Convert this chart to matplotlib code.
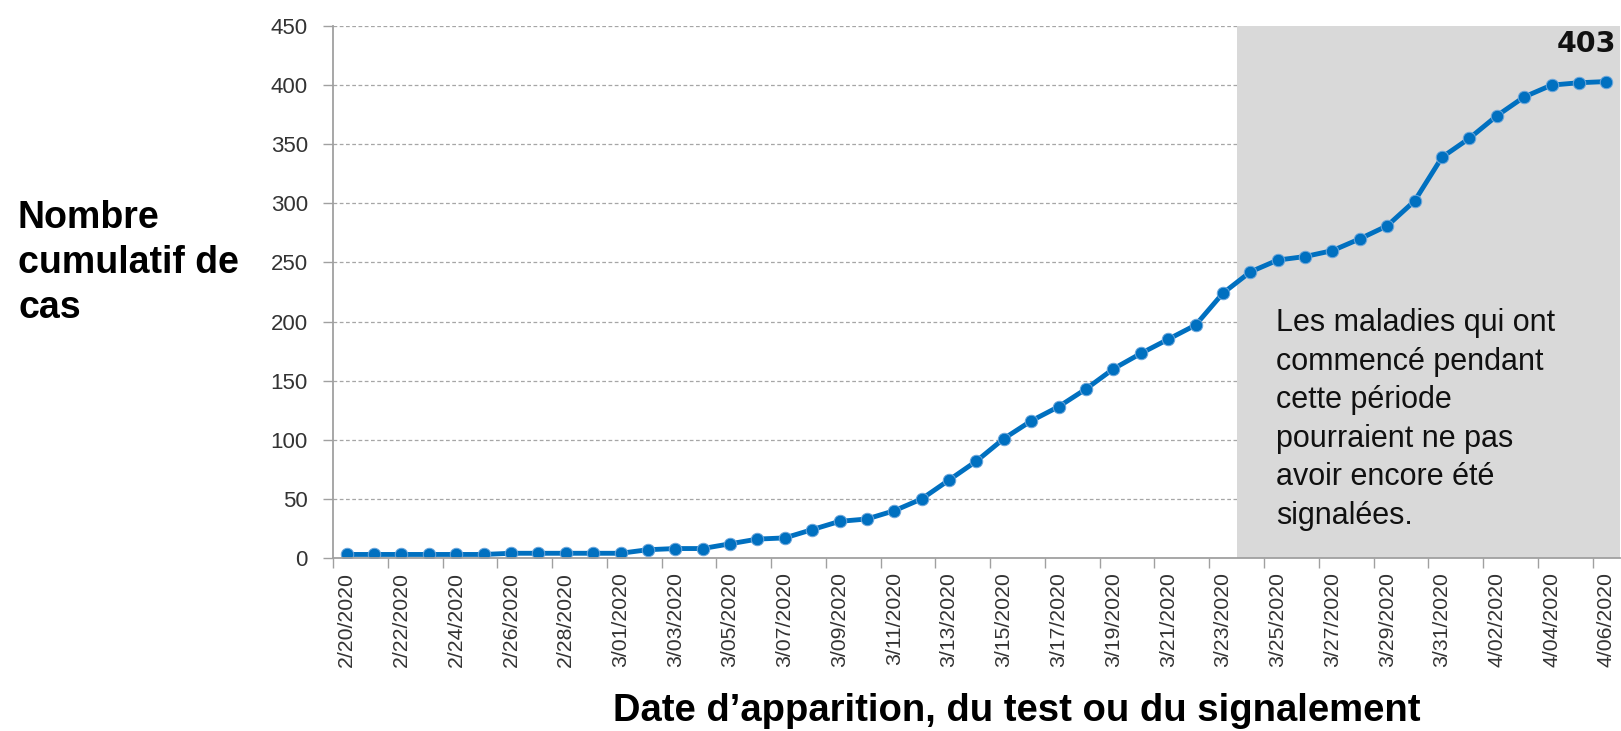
import matplotlib
matplotlib.use("Agg")
import matplotlib.pyplot as plt
import numpy as np

# ---- data ----
dates = ["2/20/2020", "2/21/2020", "2/22/2020", "2/23/2020", "2/24/2020", "2/25/2020",
         "2/26/2020", "2/27/2020", "2/28/2020", "2/29/2020", "3/01/2020", "3/02/2020",
         "3/03/2020", "3/04/2020", "3/05/2020", "3/06/2020", "3/07/2020", "3/08/2020",
         "3/09/2020", "3/10/2020", "3/11/2020", "3/12/2020", "3/13/2020", "3/14/2020",
         "3/15/2020", "3/16/2020", "3/17/2020", "3/18/2020", "3/19/2020", "3/20/2020",
         "3/21/2020", "3/22/2020", "3/23/2020", "3/24/2020", "3/25/2020", "3/26/2020",
         "3/27/2020", "3/28/2020", "3/29/2020", "3/30/2020", "3/31/2020", "4/01/2020",
         "4/02/2020", "4/03/2020", "4/04/2020", "4/05/2020", "4/06/2020"]
cumulative_cases = [3, 3, 3, 3, 3, 3,
                    4, 4, 4, 4, 4, 7,
                    8, 8, 12, 16, 17, 24,
                    31, 33, 40, 50, 66, 82,
                    101, 116, 128, 143, 160, 173,
                    185, 197, 224, 242, 252, 255,
                    260, 270, 281, 302, 339, 355,
                    374, 390, 400, 402, 403]
shade_start_date = "3/24/2020"
total_label = "403"
y_ticks = [0, 50, 100, 150, 200, 250, 300, 350, 400, 450]

W, H = 1621, 731
fig = plt.figure(figsize=(W / 100, H / 100), dpi=100)
ax = fig.add_axes([333 / W, 1 - 558 / H, (1620 - 333) / W, (558 - 26) / H])

x = np.arange(len(dates))
ax.set_xlim(-0.5, len(dates) - 0.5)
ax.set_ylim(0, 450)

# gridlines
ax.set_yticks(y_ticks)
for yv in y_ticks[1:]:
    ax.axhline(yv, color="#a6a6a6", lw=0.9, ls=(0, (3, 2)), zorder=0.5)

# shaded region
si = dates.index(shade_start_date)
ax.axvspan(si - 0.5, len(dates) - 0.5, color="#d9d9d9", zorder=1, lw=0)

# line
ax.plot(x, cumulative_cases, color="#0070c0", lw=3.5, marker="o", markersize=9,
        markerfacecolor="#0070c0", markeredgecolor="#6fa8dc", markeredgewidth=0.7,
        zorder=3)

# axes style
for s in ["top", "right"]:
    ax.spines[s].set_visible(False)
for s in ["left", "bottom"]:
    ax.spines[s].set_color("#a0a0a0")
    ax.spines[s].set_linewidth(1.3)
    ax.spines[s].set_zorder(4)

tick_font = "Liberation Sans"
ax.tick_params(axis="y", length=7, width=1, color="#a0a0a0", pad=11,
               labelsize=16, labelcolor="#333333")
for lab in ax.get_yticklabels():
    lab.set_family(tick_font)

ax.set_xticks(x[::2])
ax.set_xticklabels(dates[::2], rotation=90, family=tick_font)
ax.set_xticks(np.arange(-0.5, len(dates) - 1, 2), minor=True)
ax.tick_params(axis="x", which="major", length=0, pad=10, labelsize=15.3,
               labelcolor="#333333")
ax.tick_params(axis="x", which="minor", length=7, width=1, color="#a0a0a0")

# labels
fig.text(18 / W, 1 - 263 / H, "Nombre\ncumulatif de\ncas", ha="left", va="center",
         fontsize=27, fontweight="bold", family="Liberation Sans", linespacing=1.33)
fig.text(1017 / W, 1 - 721 / H, "Date d\u2019apparition, du test ou du signalement",
         ha="center", va="baseline", fontsize=27.5, fontweight="bold",
         family="Liberation Sans")
fig.text(1276 / W, 1 - 308 / H,
         "Les maladies qui ont\ncommencé pendant\ncette période\npourraient ne pas\navoir encore été\nsignalées.",
         ha="left", va="top", fontsize=22, family="Liberation Sans", linespacing=1.37,
         color="#111111")
fig.text(1616 / W, 1 - 52 / H, total_label, ha="right", va="baseline", fontsize=20.5,
         fontweight="bold", color="#111111")

fig.savefig("out.png", dpi=100)
